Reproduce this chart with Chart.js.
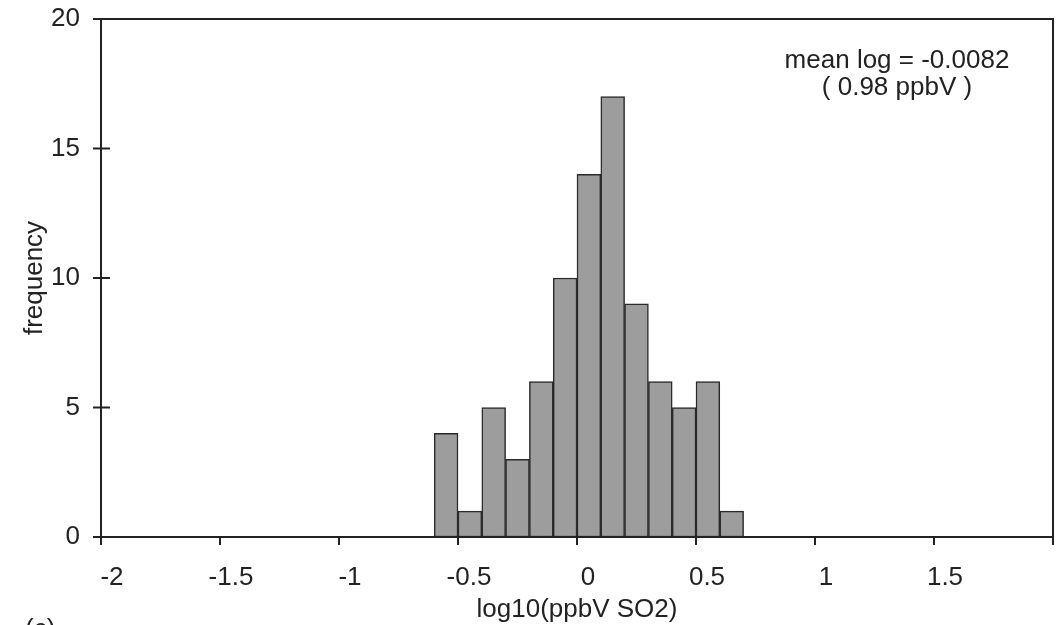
<!DOCTYPE html>
<html>
<head>
<meta charset="utf-8">
<script src="https://cdn.jsdelivr.net/npm/chart.js@4.4.1/dist/chart.umd.min.js"></script>
<style>
  html, body { margin:0; padding:0; background:#fff; }
  canvas { display:block; }
</style>
</head>
<body>
<canvas id="hist" width="1064" height="625"></canvas>
<script>
/* =========================
   Data
========================= */
const binCenters = [-0.55, -0.45, -0.35, -0.25, -0.15, -0.05, 0.05, 0.15, 0.25, 0.35, 0.45, 0.55, 0.65];
const frequency  = [4, 1, 5, 3, 6, 10, 14, 17, 9, 6, 5, 6, 1];
const xTicks = [-2, -1.5, -1, -0.5, 0, 0.5, 1, 1.5, 2];
const yTicks = [0, 5, 10, 15, 20];
const noteLines = ['mean log = -0.0082', '( 0.98 ppbV )'];

const INK = '#222';
const FONT = { family: '"Liberation Sans", Arial, sans-serif', size: 26 };

/* =========================
   Frame, tick marks, note text
========================= */
const framePlugin = {
  id: 'frame',
  afterDatasetsDraw(chart){
    const { ctx, chartArea:a, scales:{x, y} } = chart;
    ctx.save();
    ctx.strokeStyle = INK;
    ctx.lineWidth = 2;
    ctx.strokeRect(a.left, a.top, a.right - a.left, a.bottom - a.top);
    ctx.beginPath();
    x.ticks.forEach(t=>{
      const px = x.getPixelForValue(t.value);
      ctx.moveTo(px, a.bottom); ctx.lineTo(px, a.bottom + 8);
    });
    y.ticks.forEach(t=>{
      const py = y.getPixelForValue(t.value);
      ctx.moveTo(a.left - 8, py); ctx.lineTo(a.left + 9, py);
    });
    ctx.stroke();

    ctx.fillStyle = INK;
    ctx.font = `${FONT.size}px ${FONT.family}`;
    ctx.textAlign = 'center';
    ctx.textBaseline = 'middle';
    noteLines.forEach((s, i)=> ctx.fillText(s, 897, 61 + i*27));
    // panel label, cut off at the bottom edge like the scan
    ctx.textAlign = 'left';
    ctx.textBaseline = 'alphabetic';
    ctx.fillText('(c)', 25, 637);
    ctx.restore();
  }
};

// drop the automatic label-overflow padding so the frame sits where the scan has it
function noPad(s){ s.paddingTop = 0; s.paddingBottom = 0; s.paddingLeft = 0; s.paddingRight = 0; }

new Chart(document.getElementById('hist'), {
  type: 'bar',
  data: {
    datasets: [{
      data: binCenters.map((c, i)=> ({ x: c, y: frequency[i] })),
      backgroundColor: '#9d9d9d',
      borderColor: '#2a2a2a',
      borderWidth: 1.5,
      barPercentage: 1,
      categoryPercentage: 1,
      borderSkipped: false
    }]
  },
  options: {
    responsive: false,
    animation: false,
    layout: { padding: { left: 0, top: 19, right: 11, bottom: 0 } },
    plugins: { legend: { display:false }, tooltip: { enabled:false } },
    scales: {
      x: {
        type: 'linear', min: -2, max: 2, offset: false,
        afterBuildTicks: s => { s.ticks = xTicks.map(v => ({ value: v })); },
        afterFit: s => { s.height = 88; noPad(s); },
        grid: { display:false, drawTicks:false },
        border: { display:false },
        ticks: {
          autoSkip: false, maxRotation: 0, padding: 25, labelOffset: 11,
          color: INK, font: FONT,
          callback: v => v === 2 ? '' : String(v)
        },
        title: { display:true, text:'log10(ppbV SO2)', color: INK, font: FONT, padding: { top:0, bottom:0 } }
      },
      y: {
        min: 0, max: 20,
        afterBuildTicks: s => { s.ticks = yTicks.map(v => ({ value: v })); },
        afterFit: s => { s.width = 101; noPad(s); },
        grid: { display:false, drawTicks:false },
        border: { display:false },
        ticks: { padding: 21, color: INK, font: FONT },
        title: { display:true, text:'frequency', color: INK, font: FONT, padding: { top:19, bottom:0 } }
      }
    }
  },
  plugins: [framePlugin]
});
</script>
</body>
</html>
